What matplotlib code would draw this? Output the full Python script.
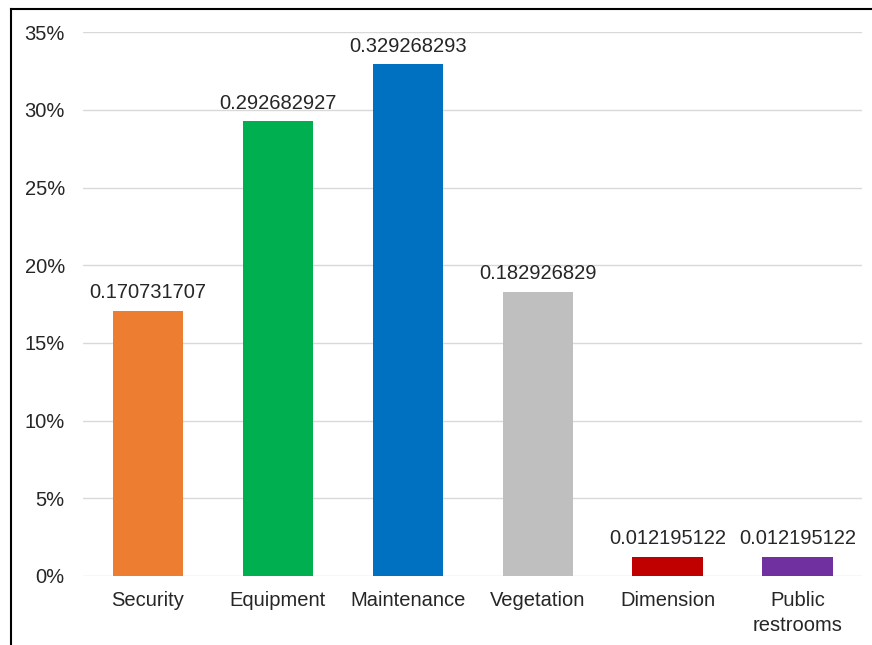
import matplotlib.pyplot as plt
from matplotlib.lines import Line2D
from matplotlib.ticker import PercentFormatter

categories = ["Security", "Equipment", "Maintenance", "Vegetation", "Dimension", "Public\nrestrooms"]
values = [0.170731707, 0.292682927, 0.329268293, 0.182926829, 0.012195122, 0.012195122]
labels = ["0.170731707", "0.292682927", "0.329268293", "0.182926829", "0.012195122", "0.012195122"]
colors = ["#ED7D31", "#00B050", "#0070C0", "#BFBFBF", "#C00000", "#7030A0"]

plt.rcParams['font.family'] = ['Liberation Sans', 'DejaVu Sans']

fig = plt.figure(figsize=(8.72, 6.45), dpi=100)
ax = fig.add_axes([0.095, 0.107, 0.894, 0.843])

x = range(len(categories))
bars = ax.bar(x, values, width=0.54, color=colors, zorder=3)
for b, lab in zip(bars, labels):
    ax.text(b.get_x() + b.get_width() / 2, b.get_height() + 0.0055, lab,
            ha='center', va='bottom', fontsize=14.5, color='#262626')

ax.set_xlim(-0.5, len(categories) - 0.5)
ax.set_ylim(0, 0.35)
ax.set_yticks([i * 0.05 for i in range(8)])
ax.yaxis.set_major_formatter(PercentFormatter(1.0, decimals=0))
ax.set_xticks(list(x))
ax.set_xticklabels(categories, fontsize=14.5, color='#262626', linespacing=1.35)
ax.tick_params(axis='y', labelsize=14.5, labelcolor='#262626', length=0, pad=13)
ax.tick_params(axis='x', length=0, pad=11)
ax.grid(axis='y', color='#D9D9D9', linewidth=1, zorder=0)
for s in ax.spines.values():
    s.set_visible(False)

# outer frame (left and top only visible)
fig.add_artist(Line2D([10.5 / 872, 10.5 / 872], [0, 1 - 8.5 / 645], color='black', lw=1.5,
                      transform=fig.transFigure))
fig.add_artist(Line2D([10.5 / 872, 1], [1 - 8.5 / 645, 1 - 8.5 / 645], color='black', lw=1.5,
                      transform=fig.transFigure))

plt.savefig("out.png", dpi=100)
